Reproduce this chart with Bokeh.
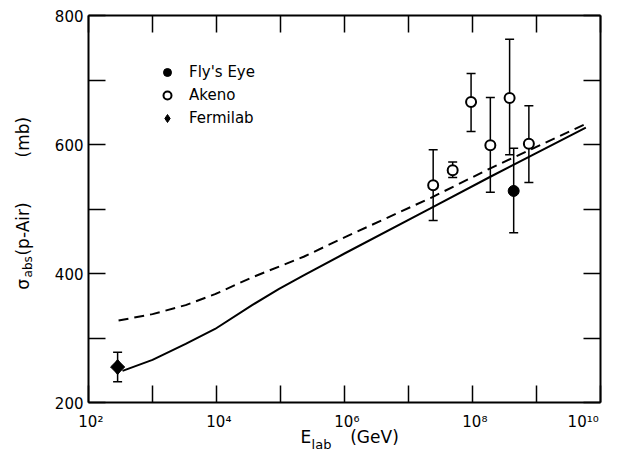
import math
from bokeh.plotting import figure
from bokeh.models import (Range1d, LogAxis, LinearAxis, FixedTicker, CustomJSTickFormatter,
                          Whisker, TeeHead, ColumnDataSource, Legend, LegendItem)
from bokeh.embed import file_html
from bokeh.resources import INLINE

# ---------------- data ----------------
fermilab_E = [285]
fermilab_sigma = [255]
fermilab_lo = [232]
fermilab_hi = [278]

akeno_E = [2.43e7, 4.9e7, 9.5e7, 1.9e8, 3.8e8, 7.6e8]
akeno_sigma = [537, 560, 666, 599, 672, 601]
akeno_lo = [482, 549, 620, 526, 584, 541]
akeno_hi = [592, 573, 710, 673, 763, 660]

flyseye_E = [4.4e8]
flyseye_sigma = [528]
flyseye_lo = [463]
flyseye_hi = [594]

solid_E = [340, 1.0e3, 3.3e3, 9.5e3, 3.6e4, 9.5e4, 2.3e5, 1.0e6, 2.2e7, 1.9e8, 5.9e9]
solid_sigma = [249, 266, 291, 314, 351, 376, 397, 431, 501, 550, 626]

dashed_E = [295, 1.0e3, 3.3e3, 9.5e3, 3.6e4, 1.45e5, 2.3e5, 1.0e6, 2.2e7, 1.9e8, 5.9e9]
dashed_sigma = [327, 337, 351, 368, 394, 418, 426, 456, 517, 563, 632]

x_decades = [1e2, 1e3, 1e4, 1e5, 1e6, 1e7, 1e8, 1e9, 1e10]
x_label_exps = {2: "\u00b2", 4: "\u2074", 6: "\u2076", 8: "\u2078", 10: "\u00b9\u2070"}
y_ticks = [200, 300, 400, 500, 600, 700, 800]
y_label_vals = [200, 400, 600, 800]

FONT = "DejaVu Sans"
NB = "\u00a0"
W, H = 603, 454
FL, FR, FT, FB = 88, 600, 15, 403   # frame edges in canvas pixels
XMIN, XMAX, YMIN, YMAX = 1e2, 1e10, 200, 800

def x_at(px):   # canvas x pixel -> data value (for placing text along an axis)
    return 10 ** (math.log10(XMIN) + (px - FL) / (FR - FL) * (math.log10(XMAX) - math.log10(XMIN)))
def y_at(py):
    return YMIN + (FB - py) / (FB - FT) * (YMAX - YMIN)

p = figure(width=W, height=H, x_axis_type="log",
           x_range=Range1d(XMIN, XMAX), y_range=Range1d(YMIN, YMAX),
           output_backend="svg", toolbar_location=None,
           min_border_left=FL, min_border_right=W - FR, min_border_top=FT, min_border_bottom=H - FB)
p.xgrid.visible = False
p.ygrid.visible = False
p.outline_line_color = None
p.background_fill_color = "white"
p.border_fill_color = "white"

empty_fmt = CustomJSTickFormatter(code="return ''")

def style_axis(ax):
    ax.axis_line_width = 2
    ax.axis_line_color = "black"
    ax.major_tick_in = 17
    ax.major_tick_out = 0
    ax.major_tick_line_width = 1.5
    ax.major_tick_line_color = "black"
    ax.minor_tick_line_color = None

xa = p.xaxis[0]
xa.ticker = FixedTicker(ticks=x_decades)
ov = {}
for t in x_decades:
    e = int(round(math.log10(t)))
    if e in x_label_exps:
        if e == 10:
            ov[float(t)] = "10" + x_label_exps[e] + NB
        else:
            ov[float(t)] = NB + "10" + x_label_exps[e]
    else:
        ov[float(t)] = ""
xa.major_label_overrides = ov
xa.major_label_text_font = FONT
xa.major_label_text_font_size = "15px"
xa.major_label_text_color = "black"
xa.major_label_standoff = 10
style_axis(xa)

ya = p.yaxis[0]
ya.ticker = FixedTicker(ticks=y_ticks)
ya.major_label_overrides = {float(t): ("" if t not in y_label_vals else str(t)) for t in y_ticks}
ya.major_label_text_font = FONT
ya.major_label_text_font_size = "15px"
ya.major_label_text_color = "black"
ya.major_label_standoff = 5
style_axis(ya)

top = LogAxis(ticker=FixedTicker(ticks=x_decades), formatter=empty_fmt,
              major_label_text_font_size="1px", major_label_standoff=0)
style_axis(top)
p.add_layout(top, "above")
right = LinearAxis(ticker=FixedTicker(ticks=y_ticks), formatter=empty_fmt,
                   major_label_text_font_size="1px", major_label_standoff=0)
style_axis(right)
p.add_layout(right, "right")

# ---- axis titles built from label-only axes (so subscripts can be placed) ----
def text_axis(kind, positions, texts, size, standoff, orientation="horizontal"):
    Ax = LogAxis if kind == "x" else LinearAxis
    return Ax(ticker=FixedTicker(ticks=positions),
              major_label_overrides={float(v): s for v, s in zip(positions, texts)},
              major_label_text_font=FONT, major_label_text_font_size=size,
              major_label_text_color="black", major_label_standoff=standoff,
              major_label_orientation=orientation,
              axis_line_color=None, major_tick_line_color=None, minor_tick_line_color=None,
              major_tick_in=0, major_tick_out=0, minor_tick_in=0, minor_tick_out=0)

# E_lab (GeV)
p.add_layout(text_axis("x", [x_at(305.4), x_at(374)], ["E", "(GeV)"], "17px", -7), "below")
p.add_layout(text_axis("x", [x_at(321)], ["lab"], "13px", -13), "below")

# sigma_abs(p-Air)   (mb)
p.add_layout(text_axis("y", [y_at(267)], ["abs"], "12px", 16, "vertical"), "left")
p.add_layout(text_axis("y", [y_at(284.5), y_at(229), y_at(137)], ["\u03c3", "(p-Air)", "(mb)"],
                       "17px", -15, "vertical"), "left")

# curves
p.line(dashed_E, dashed_sigma, line_color="black", line_width=2, line_dash="10 6")
p.line(solid_E, solid_sigma, line_color="black", line_width=2)

def errbars(E, lo, hi):
    src = ColumnDataSource(dict(x=E, lo=lo, hi=hi))
    p.add_layout(Whisker(source=src, base="x", lower="lo", upper="hi", dimension="height",
                         line_color="black", line_width=1.5, level="underlay",
                         upper_head=TeeHead(size=9, line_width=1.5, line_color="black"),
                         lower_head=TeeHead(size=9, line_width=1.5, line_color="black")))

errbars(fermilab_E, fermilab_lo, fermilab_hi)
errbars(akeno_E, akeno_lo, akeno_hi)
errbars(flyseye_E, flyseye_lo, flyseye_hi)

r_fly = p.scatter(flyseye_E, flyseye_sigma, marker="circle", size=11,
                  fill_color="black", line_color="black", line_width=1)
r_akeno = p.scatter(akeno_E, akeno_sigma, marker="circle", size=10,
                    fill_color="white", line_color="black", line_width=2)
# the diamond glyph (used by the legend) sits under a 45-degree square of the same point
r_fermi = p.scatter(fermilab_E, fermilab_sigma, marker="diamond", size=15,
                    fill_color="black", line_color="black", line_width=1)
p.scatter(fermilab_E, fermilab_sigma, marker="square", size=10, angle=math.pi / 4,
          fill_color="black", line_color="black", line_width=1)

legend = Legend(items=[LegendItem(label="Fly's Eye", renderers=[r_fly]),
                       LegendItem(label="Akeno", renderers=[r_akeno]),
                       LegendItem(label="Fermilab", renderers=[r_fermi])],
                location=(157 - FL, FB - 129), padding=0, margin=0, spacing=3,
                glyph_width=20, glyph_height=20, label_height=20, label_standoff=12,
                label_text_font=FONT, label_text_font_size="15px",
                label_text_color="black",
                border_line_color=None, background_fill_alpha=0)
p.add_layout(legend)

open("out.html", "w").write(file_html(p, INLINE))
